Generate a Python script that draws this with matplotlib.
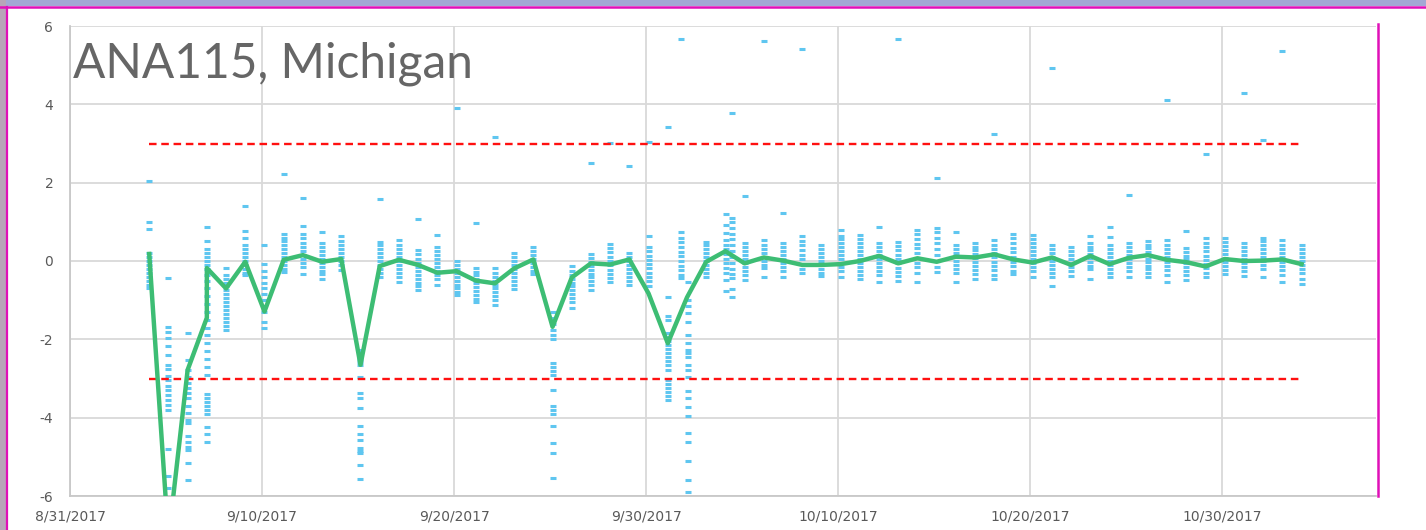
import numpy as np
import pandas as pd
import matplotlib
matplotlib.use('Agg')
import matplotlib.pyplot as plt
import matplotlib.dates as mdates
from matplotlib.lines import Line2D
from matplotlib.patches import Rectangle

plt.rcParams['axes.unicode_minus'] = False

# daily mean (green line)
mean_times = ['2017-09-04 03:00', '2017-09-05 03:00', '2017-09-06 03:00', '2017-09-07 03:00',
              '2017-09-07 03:00', '2017-09-08 03:00', '2017-09-09 03:00', '2017-09-10 03:00',
              '2017-09-11 03:00', '2017-09-12 03:00', '2017-09-13 03:00', '2017-09-14 03:00',
              '2017-09-15 03:00', '2017-09-16 03:00', '2017-09-17 03:00', '2017-09-18 03:00',
              '2017-09-19 03:00', '2017-09-20 03:00', '2017-09-21 03:00', '2017-09-22 03:00',
              '2017-09-23 03:00', '2017-09-24 03:00', '2017-09-25 03:00', '2017-09-26 03:00',
              '2017-09-27 03:00', '2017-09-28 03:00', '2017-09-29 03:00', '2017-09-30 03:00',
              '2017-10-01 03:00', '2017-10-02 03:00', '2017-10-03 03:00', '2017-10-04 03:00',
              '2017-10-05 03:00', '2017-10-06 03:00', '2017-10-07 03:00', '2017-10-08 03:00',
              '2017-10-09 03:00', '2017-10-10 03:00', '2017-10-11 03:00', '2017-10-12 03:00',
              '2017-10-13 03:00', '2017-10-14 03:00', '2017-10-15 03:00', '2017-10-16 03:00',
              '2017-10-17 03:00', '2017-10-18 03:00', '2017-10-19 03:00', '2017-10-20 03:00',
              '2017-10-21 03:00', '2017-10-22 03:00', '2017-10-23 03:00', '2017-10-24 03:00',
              '2017-10-25 03:00', '2017-10-26 03:00', '2017-10-27 03:00', '2017-10-28 03:00',
              '2017-10-29 03:00', '2017-10-30 03:00', '2017-10-31 03:00', '2017-11-01 03:00',
              '2017-11-02 03:00', '2017-11-03 03:00']
mean_vals = [0.18, -7.1, -2.78, -1.45, -0.18, -0.70, -0.02, -1.29, 0.03, 0.15, -0.02, 0.05,
             -2.65, -0.13, 0.03, -0.10, -0.30, -0.26, -0.50, -0.57, -0.19, 0.04, -1.68, -0.42,
             -0.06, -0.09, 0.04, -0.83, -2.10, -0.93, -0.02, 0.25, -0.06, 0.09, 0.01, -0.10,
             -0.10, -0.08, 0.00, 0.13, -0.06, 0.07, -0.02, 0.11, 0.09, 0.17, 0.04, -0.04,
             0.09, -0.10, 0.13, -0.08, 0.08, 0.15, 0.03, -0.03, -0.14, 0.05, 0.00, 0.01,
             0.04, -0.08]

# individual samples (blue dashes)
sample_times = ['2017-09-04 03:00', '2017-09-05 03:00', '2017-09-06 03:00', '2017-09-07 03:00',
                '2017-09-08 03:00', '2017-09-09 03:00', '2017-09-10 03:00', '2017-09-11 03:00',
                '2017-09-12 03:00', '2017-09-13 03:00', '2017-09-14 03:00', '2017-09-15 03:00',
                '2017-09-16 03:00', '2017-09-17 03:00', '2017-09-18 03:00', '2017-09-19 03:00',
                '2017-09-20 03:00', '2017-09-21 03:00', '2017-09-22 03:00', '2017-09-23 03:00',
                '2017-09-24 03:00', '2017-09-25 03:00', '2017-09-26 03:00', '2017-09-27 03:00',
                '2017-09-28 03:00', '2017-09-29 03:00', '2017-09-30 03:00', '2017-10-01 03:00',
                '2017-10-01 19:30', '2017-10-02 04:00', '2017-10-03 03:00', '2017-10-04 03:30',
                '2017-10-04 11:00', '2017-10-05 03:00', '2017-10-06 03:00', '2017-10-07 03:00',
                '2017-10-08 03:00', '2017-10-09 03:00', '2017-10-10 03:00', '2017-10-11 03:00',
                '2017-10-12 03:00', '2017-10-13 03:00', '2017-10-14 03:00', '2017-10-15 03:00',
                '2017-10-16 03:00', '2017-10-17 03:00', '2017-10-18 03:00', '2017-10-19 03:00',
                '2017-10-20 03:00', '2017-10-21 03:00', '2017-10-22 03:00', '2017-10-23 03:00',
                '2017-10-24 03:00', '2017-10-25 03:00', '2017-10-26 03:00', '2017-10-27 03:00',
                '2017-10-28 03:00', '2017-10-29 03:00', '2017-10-30 03:00', '2017-10-31 03:00',
                '2017-11-01 03:00', '2017-11-02 03:00', '2017-11-03 03:00']
sample_vals = [
    [2.05, 1.0, 0.82, 0.2, 0.1, 0.0, -0.1, -0.2, -0.3, -0.4, -0.5, -0.6, -0.7],
    [-0.43, -1.69, -1.8, -1.97, -2.17, -2.4, -2.65, -2.76, -2.93, -3.05, -3.19, -3.29, -3.42,
     -3.55, -3.67, -3.8, -4.8, -5.5, -5.8, -7.5, -9.0, -12.0],
    [-1.84, -2.52, -2.78, -2.95, -3.12, -3.25, -3.38, -3.5, -3.71, -3.88, -4.06, -4.14, -4.48,
     -4.61, -4.74, -4.82, -5.16, -5.59],
    [0.86, 0.5, 0.3, 0.2, 0.1, 0.0, -0.1, -0.2, -0.35, -0.5, -0.7, -0.9, -1.1, -1.3, -1.5, -1.7,
     -1.9, -2.1, -2.3, -2.5, -2.7, -2.9, -3.4, -3.5, -3.6, -3.7, -3.8, -3.9, -4.23, -4.42, -4.63],
    [-0.17, -0.35, -0.45, -0.55, -0.65, -0.75, -0.85, -0.95, -1.05, -1.15, -1.25, -1.35, -1.45,
     -1.55, -1.65, -1.76],
    [1.41, 0.77, 0.58, 0.4, 0.3, 0.2, 0.1, 0.0, -0.1, -0.2, -0.3, -0.36],
    [0.41, -0.08, -0.25, -0.4, -0.55, -0.7, -0.85, -1.0, -1.15, -1.29, -1.55, -1.72],
    [2.22, 0.7, 0.6, 0.5, 0.4, 0.3, 0.2, 0.1, 0.0, -0.1, -0.2, -0.27],
    [1.62, 0.89, 0.7, 0.58, 0.45, 0.35, 0.25, 0.15, 0.05, -0.05, -0.15, -0.32],
    [0.73, 0.45, 0.35, 0.25, 0.15, 0.05, -0.05, -0.15, -0.25, -0.32, -0.47],
    [0.63, 0.5, 0.4, 0.3, 0.2, 0.1, 0.0, -0.1, -0.23],
    [-2.27, -2.35, -2.42, -2.5, -2.57, -2.65, -2.95, -3.37, -3.5, -3.76, -4.2, -4.41, -4.56,
     -4.77, -4.85, -4.9, -5.2, -5.57],
    [1.58, 0.49, 0.4, 0.3, 0.2, 0.1, 0.0, -0.1, -0.2, -0.3, -0.4],
    [0.53, 0.4, 0.3, 0.2, 0.1, 0.0, -0.1, -0.2, -0.3, -0.4, -0.53],
    [1.06, 0.28, 0.18, 0.05, -0.05, -0.15, -0.25, -0.35, -0.45, -0.55, -0.65, -0.74],
    [0.66, 0.36, 0.25, 0.15, 0.05, -0.05, -0.15, -0.25, -0.35, -0.45, -0.61],
    [3.9, 0.0, -0.1, -0.2, -0.3, -0.4, -0.5, -0.6, -0.7, -0.8, -0.88],
    [0.98, -0.17, -0.27, -0.37, -0.47, -0.57, -0.67, -0.77, -0.87, -0.97, -1.04],
    [3.16, -0.19, -0.3, -0.4, -0.5, -0.6, -0.7, -0.8, -0.9, -1.0, -1.12],
    [0.2, 0.1, 0.0, -0.1, -0.2, -0.3, -0.4, -0.5, -0.6, -0.72],
    [0.35, 0.25, 0.15, 0.05, -0.05, -0.15, -0.25, -0.32],
    [-1.29, -1.45, -1.6, -1.75, -1.9, -2.0, -2.61, -2.7, -2.8, -2.9, -3.3, -3.7, -3.8, -3.9,
     -4.2, -4.65, -4.9, -5.54],
    [-0.13, -0.25, -0.35, -0.45, -0.55, -0.65, -0.75, -0.85, -0.95, -1.05, -1.2],
    [2.49, 0.18, 0.08, -0.02, -0.12, -0.22, -0.32, -0.42, -0.52, -0.62, -0.73],
    [3.02, 0.44, 0.33, 0.22, 0.11, 0.0, -0.11, -0.22, -0.33, -0.44, -0.53],
    [2.42, 0.2, 0.1, 0.0, -0.1, -0.2, -0.3, -0.4, -0.5, -0.61],
    [3.04, 0.63, 0.36, 0.25, 0.14, 0.03, -0.08, -0.19, -0.3, -0.41, -0.52, -0.65],
    [3.43, -0.91, -1.4, -1.5, -1.84, -1.95, -2.05, -2.15, -2.25, -2.35, -2.45, -2.55, -2.65,
     -2.78, -3.04, -3.15, -3.25, -3.35, -3.45, -3.55],
    [5.66, 0.73, 0.6, 0.48, 0.36, 0.24, 0.12, 0.0, -0.12, -0.24, -0.35, -0.44],
    [-0.53, -0.99, -1.16, -1.33, -1.55, -1.89, -2.1, -2.27, -2.36, -2.44, -2.65, -2.78, -2.95,
     -3.33, -3.5, -3.72, -3.97, -4.4, -4.61, -5.1, -5.59, -5.91],
    [0.49, 0.4, 0.3, 0.2, 0.1, 0.0, -0.1, -0.2, -0.3, -0.42],
    [1.2, 0.92, 0.71, 0.54, 0.42, 0.3, 0.18, 0.06, -0.06, -0.18, -0.3, -0.48, -0.76],
    [3.78, 1.09, 1.0, 0.85, 0.7, 0.55, 0.4, 0.25, 0.1, -0.05, -0.2, -0.32, -0.44, -0.72, -0.91],
    [1.66, 0.47, 0.37, 0.25, 0.15, 0.05, -0.05, -0.15, -0.25, -0.35, -0.48],
    [5.61, 0.54, 0.41, 0.3, 0.2, 0.1, 0.0, -0.1, -0.18, -0.4],
    [1.22, 0.45, 0.35, 0.25, 0.15, 0.05, -0.05, -0.15, -0.25, -0.4],
    [5.41, 0.64, 0.52, 0.4, 0.28, 0.16, 0.04, -0.08, -0.2, -0.31],
    [0.41, 0.3, 0.2, 0.1, 0.0, -0.1, -0.2, -0.3, -0.38],
    [0.79, 0.65, 0.55, 0.45, 0.35, 0.25, 0.15, 0.05, -0.05, -0.15, -0.25, -0.42],
    [0.66, 0.55, 0.45, 0.35, 0.25, 0.15, 0.05, -0.05, -0.15, -0.25, -0.35, -0.45],
    [0.88, 0.45, 0.35, 0.25, 0.15, 0.05, -0.05, -0.15, -0.25, -0.35, -0.53],
    [5.67, 0.49, 0.38, 0.27, 0.16, 0.05, -0.06, -0.17, -0.28, -0.39, -0.5],
    [0.8, 0.68, 0.56, 0.44, 0.32, 0.2, 0.08, -0.04, -0.16, -0.3, -0.53],
    [2.13, 0.85, 0.75, 0.6, 0.45, 0.3, 0.15, 0.0, -0.15, -0.27],
    [0.75, 0.41, 0.3, 0.2, 0.1, 0.0, -0.1, -0.2, -0.3, -0.53],
    [0.47, 0.37, 0.27, 0.17, 0.07, -0.03, -0.13, -0.23, -0.33, -0.47],
    [3.24, 0.53, 0.42, 0.31, 0.2, 0.09, -0.02, -0.13, -0.24, -0.35, -0.45],
    [0.7, 0.58, 0.46, 0.34, 0.22, 0.1, -0.02, -0.14, -0.25, -0.33],
    [0.66, 0.55, 0.45, 0.35, 0.25, 0.15, 0.05, -0.05, -0.15, -0.25, -0.4],
    [4.93, 0.41, 0.3, 0.2, 0.1, 0.0, -0.1, -0.2, -0.3, -0.4, -0.64],
    [0.35, 0.25, 0.15, 0.05, -0.05, -0.15, -0.25, -0.38],
    [0.64, 0.47, 0.37, 0.27, 0.17, 0.07, -0.03, -0.13, -0.21, -0.45],
    [0.88, 0.62, 0.41, 0.3, 0.2, 0.1, 0.0, -0.1, -0.2, -0.3, -0.42],
    [1.68, 0.45, 0.35, 0.25, 0.15, 0.05, -0.05, -0.15, -0.25, -0.42],
    [0.51, 0.42, 0.33, 0.24, 0.15, 0.06, -0.03, -0.12, -0.21, -0.3, -0.4],
    [4.12, 0.53, 0.42, 0.31, 0.2, 0.09, -0.02, -0.13, -0.24, -0.35, -0.53],
    [0.77, 0.34, 0.24, 0.14, 0.04, -0.06, -0.16, -0.26, -0.36, -0.48],
    [2.74, 0.58, 0.47, 0.36, 0.25, 0.14, 0.03, -0.08, -0.19, -0.3, -0.4],
    [0.58, 0.48, 0.38, 0.28, 0.18, 0.08, -0.02, -0.12, -0.22, -0.33],
    [4.29, 0.45, 0.35, 0.25, 0.15, 0.05, -0.05, -0.15, -0.25, -0.38],
    [3.1, 0.6, 0.5, 0.4, 0.3, 0.2, 0.1, 0.0, -0.1, -0.2, -0.4],
    [5.37, 0.53, 0.42, 0.31, 0.2, 0.09, -0.02, -0.13, -0.24, -0.35, -0.53],
    [0.41, 0.3, 0.2, 0.1, 0.0, -0.1, -0.2, -0.3, -0.45, -0.59],
]

limit_start = '2017-09-04 03:00'
limit_end = '2017-11-03 03:00'
limit_levels = [3, -3]

x_min, x_max = '2017-08-31', '2017-11-07'
tick_dates = ['2017-08-31', '2017-09-10', '2017-09-20', '2017-09-30',
              '2017-10-10', '2017-10-20', '2017-10-30']
y_ticks = [-6, -4, -2, 0, 2, 4, 6]

W, H = 1426, 530
fig = plt.figure(figsize=(W / 100, H / 100), dpi=100)
fig.patch.set_facecolor('white')

# slide frame: photo strips + magenta rules
fig.patches.append(Rectangle((0, 1 - 6 / H), 1, 6 / H, transform=fig.transFigure,
                             facecolor='#a3a8d4', edgecolor='none', zorder=0))
fig.patches.append(Rectangle((0, 0), 6 / W, 1, transform=fig.transFigure,
                             facecolor='#b8a4b8', edgecolor='none', zorder=0))
fig.lines.append(Line2D([0, 1], [1 - 6.5 / H, 1 - 6.5 / H], transform=fig.transFigure,
                        color='#e010b8', lw=1.8))
fig.lines.append(Line2D([7 / W, 7 / W], [0, 1 - 6.5 / H], transform=fig.transFigure,
                        color='#e010b8', lw=1.6))
fig.lines.append(Line2D([1378 / W, 1378 / W], [1 - 496 / H, 1 - 24 / H], transform=fig.transFigure,
                        color='#e010b8', lw=1.8))

ax = fig.add_axes([70 / W, 1 - 496 / H, (1376 - 70) / W, (496 - 26) / H])
ax.set_facecolor('white')

# samples
xs, ys = [], []
for t, vals in zip(sample_times, sample_vals):
    xs += [pd.Timestamp(t)] * len(vals)
    ys += vals
ax.plot(xs, ys, linestyle='none', marker='_', ms=4.5, mew=2.2, color='#5fc6f0', zorder=2)

# control limits
for lvl in limit_levels:
    ax.plot([pd.Timestamp(limit_start), pd.Timestamp(limit_end)], [lvl, lvl],
            color='#ff1010', lw=1.7, linestyle=(0, (3.2, 2.0)), zorder=3)

# daily mean
ax.plot(pd.to_datetime(mean_times), mean_vals, color='#3dbd74', lw=3.2,
        solid_joinstyle='round', zorder=4)

ax.set_xlim(pd.Timestamp(x_min), pd.Timestamp(x_max))
ax.set_ylim(-6, 6)
ax.set_yticks(y_ticks)
ax.set_xticks(pd.to_datetime(tick_dates))
ax.xaxis.set_major_formatter(plt.FuncFormatter(
    lambda v, p: (lambda d: f"{d.month}/{d.day}/{d.year}")(mdates.num2date(v))))

ax.grid(True, color='#d9d9d9', lw=1.3, zorder=0)
ax.set_axisbelow(True)
for s in ['top', 'right']:
    ax.spines[s].set_visible(False)
for s in ['left', 'bottom']:
    ax.spines[s].set_color('#c8c8c8')
    ax.spines[s].set_linewidth(1.3)
ax.tick_params(axis='both', length=0, labelsize=10, labelcolor='#595959')
ax.tick_params(axis='y', pad=12)
ax.tick_params(axis='x', pad=10)

fig.text(73 / W, 1 - 77 / H, 'ANA115, Michigan', family='Lato', fontsize=34.5,
         color='#666666', va='baseline', ha='left')

fig.savefig('out.png', dpi=100, facecolor=fig.get_facecolor())
